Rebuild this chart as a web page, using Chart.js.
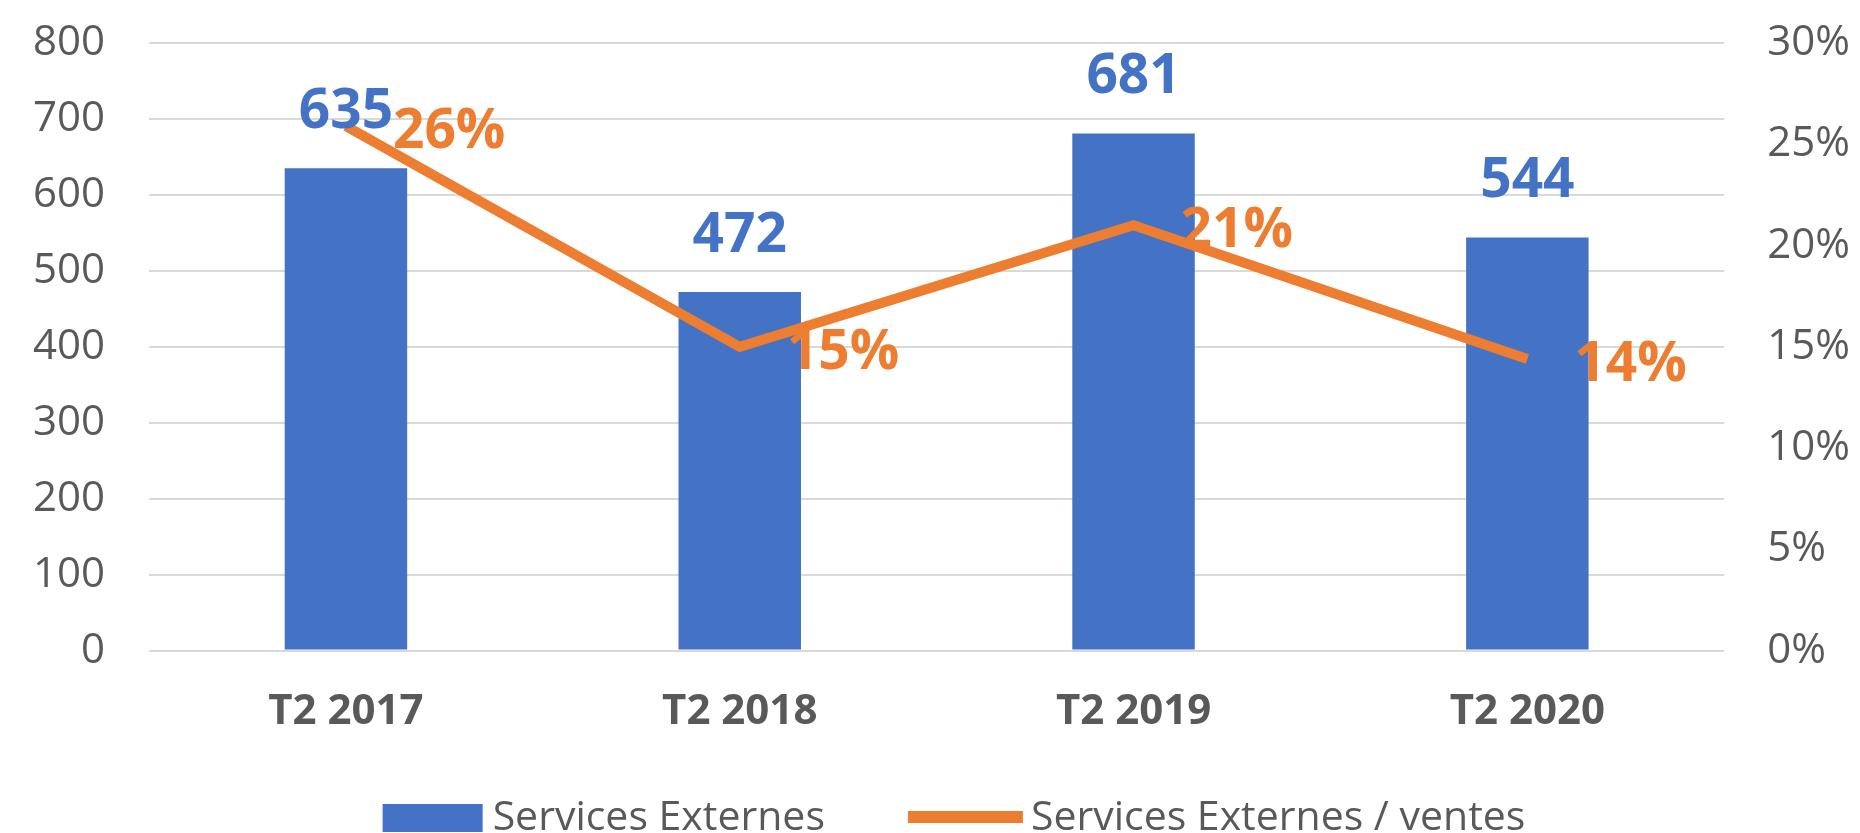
<!DOCTYPE html>
<html>
<head>
<meta charset="utf-8">
<script src="https://cdn.jsdelivr.net/npm/chart.js@4"></script>
<style>
  html, body { margin: 0; padding: 0; background: #fff; }
  #wrap { width: 1860px; height: 833px; }
</style>
</head>
<body>
<div id="wrap"><canvas id="chart"></canvas></div>
<script>
const categories = ['T2 2017', 'T2 2018', 'T2 2019', 'T2 2020'];
const servicesExternes = [635, 472, 681, 544];
const ratioVentes = [0.259, 0.150, 0.210, 0.144];
const ratioLabels = ['26%', '15%', '21%', '14%'];

const BLUE = '#4472C4';
const ORANGE = '#ED7D31';
const GREY = '#595959';

Chart.defaults.font.family = "'Open Sans', sans-serif";
Chart.defaults.color = GREY;

// keep the layout padding in charge of the margins
function noScalePadding(scale) {
    scale.paddingTop = 0;
    scale.paddingBottom = 0;
    scale.paddingLeft = 0;
    scale.paddingRight = 0;
}

// value labels above bars and to the right of line points
const valueLabels = {
    id: 'valueLabels',
    afterDatasetsDraw(chart) {
        const ctx = chart.ctx;
        ctx.save();
        ctx.font = "bold 55px 'Open Sans'";
        ctx.textBaseline = 'alphabetic';

        const bars = chart.getDatasetMeta(0).data;
        ctx.fillStyle = BLUE;
        ctx.textAlign = 'center';
        bars.forEach((bar, i) => {
            ctx.fillText(String(servicesExternes[i]), bar.x, bar.y - 40);
        });

        const points = chart.getDatasetMeta(1).data;
        ctx.fillStyle = ORANGE;
        ctx.textAlign = 'left';
        points.forEach((pt, i) => {
            ctx.fillText(ratioLabels[i], pt.x + 47, pt.y + 22);
        });
        ctx.restore();
    }
};

// legend drawn by hand so the spacing follows the original
const bottomLegend = {
    id: 'bottomLegend',
    afterDraw(chart) {
        const ctx = chart.ctx;
        const ds = chart.data.datasets;
        ctx.save();
        ctx.font = "41px 'Open Sans'";
        ctx.textBaseline = 'alphabetic';
        ctx.textAlign = 'left';
        const w1 = ctx.measureText(ds[0].label).width;
        const w2 = ctx.measureText(ds[1].label).width;
        const total = 100 + 10 + w1 + 83 + 115 + 8 + w2;
        let x = 954 - total / 2;

        ctx.fillStyle = BLUE;
        ctx.fillRect(x, 804, 100, 28);
        x += 110;
        ctx.fillStyle = GREY;
        ctx.fillText(ds[0].label, x, 830);
        x += w1 + 83;

        ctx.strokeStyle = ORANGE;
        ctx.lineWidth = 12;
        ctx.beginPath();
        ctx.moveTo(x, 817);
        ctx.lineTo(x + 115, 817);
        ctx.stroke();
        x += 123;
        ctx.fillStyle = GREY;
        ctx.fillText(ds[1].label, x, 830);
        ctx.restore();
    }
};

const ctx = document.getElementById('chart').getContext('2d');

new Chart(ctx, {
    type: 'bar',
    data: {
        labels: categories,
        datasets: [{
            label: 'Services Externes',
            data: servicesExternes,
            backgroundColor: BLUE,
            borderWidth: 0,
            categoryPercentage: 1,
            barPercentage: 0.311,
            yAxisID: 'y',
            order: 2
        }, {
            type: 'line',
            label: 'Services Externes / ventes',
            data: ratioVentes,
            borderColor: ORANGE,
            backgroundColor: ORANGE,
            borderWidth: 10,
            pointRadius: 0,
            tension: 0,
            yAxisID: 'y1',
            order: 1
        }]
    },
    options: {
        responsive: true,
        maintainAspectRatio: false,
        animation: false,
        layout: {
            // axis boxes reserve tick padding twice, so the outer sides go negative
            padding: { left: -11, right: -33, top: 43, bottom: 60 }
        },
        plugins: {
            legend: { display: false },
            tooltip: { enabled: false }
        },
        scales: {
            x: {
                offset: true,
                afterFit: noScalePadding,
                grid: { display: false, drawTicks: false },
                border: { display: false },
                ticks: {
                    padding: 36,
                    color: GREY,
                    font: { size: 42, weight: 'bold' }
                }
            },
            y: {
                position: 'left',
                min: 0,
                max: 800,
                afterFit: noScalePadding,
                ticks: {
                    stepSize: 100,
                    padding: 44,
                    color: GREY,
                    font: { size: 42 }
                },
                grid: { color: '#D9D9D9', lineWidth: 2, drawTicks: false },
                border: { display: false }
            },
            y1: {
                position: 'right',
                min: 0,
                max: 0.3,
                afterFit: noScalePadding,
                ticks: {
                    stepSize: 0.05,
                    padding: 43,
                    color: GREY,
                    font: { size: 42 },
                    callback: v => Math.round(v * 100) + '%'
                },
                grid: { drawOnChartArea: false, drawTicks: false },
                border: { display: false }
            }
        }
    },
    plugins: [valueLabels, bottomLegend]
});
</script>
</body>
</html>
